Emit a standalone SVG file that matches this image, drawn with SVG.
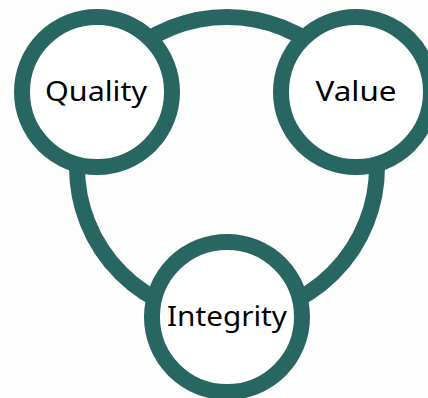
<svg xmlns="http://www.w3.org/2000/svg" width="428" height="398" viewBox="0 0 428 398">
<style>
.ring{fill:#ffffff;stroke:#286662;stroke-width:16}
.link{fill:none;stroke:#286662;stroke-width:16}
.lbl{font-family:"Noto Sans","Liberation Sans",sans-serif;font-size:27px;fill:#000;text-anchor:middle}
</style>
<rect width="428" height="398" fill="#fdfdfd"/>
<g id="connectors">
<circle class="link" cx="227" cy="167" r="150"/>
</g>
<g id="quality">
<circle class="ring" cx="97" cy="92" r="75"/>
<text class="lbl" x="96" y="101" textLength="102" lengthAdjust="spacingAndGlyphs">Quality</text>
</g>
<g id="value">
<circle class="ring" cx="356" cy="92" r="75"/>
<text class="lbl" x="356" y="101" textLength="81" lengthAdjust="spacingAndGlyphs">Value</text>
</g>
<g id="integrity">
<circle class="ring" cx="227" cy="317" r="75"/>
<text class="lbl" x="227" y="326" textLength="120" lengthAdjust="spacingAndGlyphs">Integrity</text>
</g>
</svg>
